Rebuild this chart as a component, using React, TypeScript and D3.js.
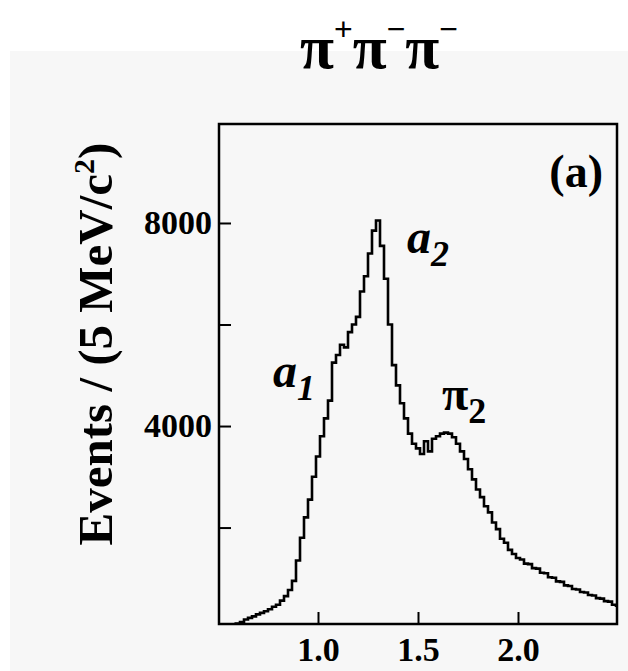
import React, { useEffect, useRef } from 'react';
import * as d3 from 'd3';

// invariant mass bins (GeV/c^2) and counts
const massGeV = [
  0.58, 0.6, 0.62, 0.64, 0.66, 0.68, 0.7, 0.72, 0.74, 0.76, 0.78, 0.8, 0.82,
  0.84, 0.86, 0.88, 0.9, 0.92, 0.94, 0.96, 0.98, 1.0, 1.02, 1.04, 1.06, 1.08,
  1.1, 1.12, 1.14, 1.16, 1.18, 1.2, 1.22, 1.24, 1.26, 1.28, 1.3, 1.32, 1.34,
  1.36, 1.38, 1.4, 1.42, 1.44, 1.46, 1.48, 1.5, 1.52, 1.54, 1.56, 1.58, 1.6,
  1.62, 1.64, 1.66, 1.68, 1.7, 1.72, 1.74, 1.76, 1.78, 1.8, 1.82, 1.84, 1.86,
  1.88, 1.9, 1.92, 1.94, 1.96, 1.98, 2.0, 2.02, 2.04, 2.06, 2.08, 2.1, 2.12,
  2.14, 2.16, 2.18, 2.2, 2.22, 2.24, 2.26, 2.28, 2.3, 2.32, 2.34, 2.36, 2.38,
  2.4, 2.42, 2.44, 2.46, 2.48, 2.5,
];
const events = [
  100, 110, 140, 190, 220, 250, 290, 320, 350, 390, 440, 480, 560, 650, 770,
  950, 1350, 1800, 2200, 2550, 3000, 3400, 3800, 4150, 4500, 5250, 5400, 5600,
  5550, 5850, 6000, 6150, 6650, 6950, 7400, 7850, 8050, 7550, 6900, 6000, 5200,
  4800, 4450, 4150, 3850, 3650, 3560, 3450, 3700, 3500, 3750, 3800, 3850, 3870,
  3850, 3780, 3650, 3500, 3350, 3150, 2950, 2750, 2600, 2420, 2300, 2100, 1970,
  1780, 1700, 1560, 1480, 1400, 1370, 1290, 1280, 1200, 1190, 1110, 1100, 1020,
  1010, 940, 930, 860, 850, 790, 780, 730, 720, 670, 660, 610, 600, 550, 540,
  480, 460,
];

const yTicks = [2000, 4000, 6000, 8000];
const yLabelled = [4000, 8000];
const xTicks = [1.0, 1.5, 2.0];

const title = 'π';
const yTitle = 'Events / (5 MeV/c';

const App = () => {
  const ref = useRef<SVGGElement>(null);
  const width = 628;
  const height = 671;
  const frame = { left: 219, right: 617, top: 124, bottom: 624 };

  useEffect(() => {
    const g = d3.select(ref.current);
    g.selectAll('*').remove();

    const x = d3.scaleLinear().domain([0.5, 2.5]).range([218, 618]);
    const y = d3.scaleLinear().domain([100, 9950]).range([frame.bottom, frame.top]);

    const serif = '"Liberation Serif", "Times New Roman", serif';

    // grey panel
    g.append('rect')
      .attr('x', 10)
      .attr('y', 51)
      .attr('width', width - 10)
      .attr('height', height - 51)
      .attr('fill', '#f7f7f7');

    // title
    const t = g
      .append('text')
      .attr('x', 300)
      .attr('y', 68)
      .style('font-family', serif)
      .style('font-weight', 'bold')
      .style('font-size', '62px')
      .attr('fill', '#000');
    const sup = ['+', '−', '−'];
    sup.forEach((s, i) => {
      t.append('tspan').attr('dy', i === 0 ? 0 : 28).text(title);
      t.append('tspan')
        .attr('dy', -28)
        .style('font-family', '"Liberation Sans", sans-serif')
        .style('font-weight', 'normal')
        .style('font-size', '32px')
        .text(s);
    });

    // histogram
    g.append('clipPath')
      .attr('id', 'frameClip')
      .append('rect')
      .attr('x', frame.left)
      .attr('y', frame.top)
      .attr('width', frame.right - frame.left)
      .attr('height', frame.bottom - frame.top);

    const pts = massGeV.map((m, i) => [m, events[i]] as [number, number]);
    const line = d3
      .line<[number, number]>()
      .x((d) => x(d[0]))
      .y((d) => y(d[1]))
      .curve(d3.curveStep);

    g.append('path')
      .datum(pts)
      .attr('clip-path', 'url(#frameClip)')
      .attr('d', line)
      .attr('fill', 'none')
      .attr('stroke', '#000')
      .attr('stroke-width', 2.6);

    // axes
    const yAxis = g
      .append('g')
      .attr('transform', `translate(${frame.left},0)`)
      .call(
        d3
          .axisLeft(y)
          .tickValues(yTicks)
          .tickSize(-12)
          .tickPadding(7)
          .tickFormat((d) => (yLabelled.includes(d as number) ? String(d) : ''))
      );
    yAxis.select('.domain').remove();

    const xAxis = g
      .append('g')
      .attr('transform', `translate(0,${frame.bottom})`)
      .call(
        d3
          .axisBottom(x)
          .tickValues(xTicks)
          .tickSize(-12)
          .tickPadding(13)
          .tickFormat(d3.format('.1f'))
      );
    xAxis.select('.domain').remove();

    g.selectAll('.tick line').attr('stroke', '#000').attr('stroke-width', 2);
    g.selectAll('.tick text')
      .attr('fill', '#000')
      .style('font-family', serif)
      .style('font-weight', 'bold')
      .style('font-size', '34px');

    // frame
    g.append('rect')
      .attr('x', frame.left)
      .attr('y', frame.top)
      .attr('width', frame.right - frame.left)
      .attr('height', frame.bottom - frame.top)
      .attr('fill', 'none')
      .attr('stroke', '#000')
      .attr('stroke-width', 2.5);

    // y title
    const yt = g
      .append('text')
      .attr('transform', 'translate(112,344) rotate(-90)')
      .attr('text-anchor', 'middle')
      .style('font-family', serif)
      .style('font-weight', 'bold')
      .style('font-size', '49px')
      .attr('fill', '#000');
    yt.append('tspan').text(yTitle);
    yt.append('tspan').attr('dy', -18).style('font-size', '30px').text('2');
    yt.append('tspan').attr('dy', 18).text(')');

    // panel tag
    g.append('text')
      .attr('x', 603)
      .attr('y', 187)
      .attr('text-anchor', 'end')
      .style('font-family', serif)
      .style('font-weight', 'bold')
      .style('font-size', '46px')
      .attr('fill', '#000')
      .text('(a)');

    // resonance labels
    const labels = [
      { text: 'a', sub: '2', x: 407, y: 253, italic: true },
      { text: 'a', sub: '1', x: 273, y: 387, italic: true },
      { text: 'π', sub: '2', x: 442, y: 410, italic: false },
    ];
    labels.forEach((l) => {
      const tx = g
        .append('text')
        .attr('x', l.x)
        .attr('y', l.y)
        .style('font-family', serif)
        .style('font-weight', 'bold')
        .style('font-style', l.italic ? 'italic' : 'normal')
        .style('font-size', '48px')
        .attr('fill', '#000');
      tx.append('tspan').text(l.text);
      tx.append('tspan').attr('dy', 13).style('font-size', '36px').text(l.sub);
    });
  }, []);

  return (
    <div style={{ position: 'absolute', left: 0, top: 0 }}>
      <svg width={width} height={height} style={{ display: 'block', background: '#fff' }}>
        <g ref={ref} />
      </svg>
    </div>
  );
};

export default App;
